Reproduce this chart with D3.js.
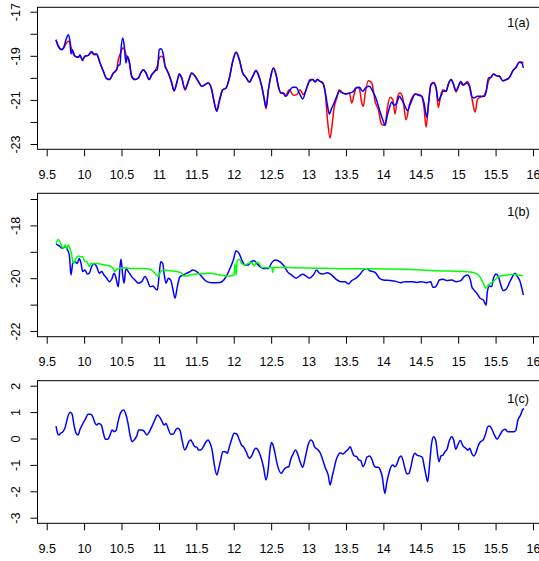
<!DOCTYPE html>
<html><head><meta charset="utf-8">
<script src="https://cdn.jsdelivr.net/npm/d3@7"></script>
<style>html,body{margin:0;padding:0;background:#fff;}svg{display:block;}</style>
</head><body>
<svg id="c" width="539" height="561"></svg>
<script>
// ---------- data ----------
const xTicks = [9.5,10,10.5,11,11.5,12,12.5,13,13.5,14,14.5,15,15.5,16];
const p1YTicks = [-17,-18,-19,-20,-21,-22,-23];
const p1YLabels = [-17,-19,-21,-23];
const p2YTicks = [-17,-18,-19,-20,-21,-22];
const p2YLabels = [-18,-20,-22];
const p3YTicks = [2,1,0,-1,-2,-3];
const p3YLabels = [2,1,0,-1,-2,-3];
const panelLabels = ["1(a)","1(b)","1(c)"];

const p1RedX = [9.624,9.655,9.70,9.72,9.758,9.789,9.81,9.825,9.842,9.878,9.922,9.945,9.976,10.012,10.056,10.10,10.132,10.168,10.213,10.257,10.302,10.337,10.39,10.436,10.457,10.49,10.516,10.537,10.56,10.60,10.636,10.68,10.725,10.757,10.79,10.828,10.868,10.904,10.948,10.979,11.005,11.028,11.059,11.082,11.104,11.126,11.171,11.202,11.238,11.273,11.305,11.349,11.393,11.439,11.483,11.527,11.572,11.616,11.66,11.706,11.727,11.773,11.808,11.853,11.897,11.941,11.987,12.031,12.075,12.12,12.164,12.209,12.254,12.298,12.329,12.374,12.409,12.432,12.463,12.495,12.53,12.566,12.596,12.632,12.663,12.686,12.743,12.797,12.842,12.886,12.931,12.976,13.02,13.056,13.087,13.118,13.154,13.19,13.221,13.251,13.287,13.31,13.341,13.377,13.412,13.457,13.501,13.545,13.578,13.608,13.644,13.679,13.711,13.733,13.755,13.799,13.845,13.869,13.889,13.933,13.969,14.0,14.023,14.053,14.09,14.126,14.156,14.187,14.223,14.259,14.303,14.348,14.393,14.424,14.481,14.513,14.544,14.571,14.602,14.634,14.669,14.705,14.735,14.768,14.802,14.838,14.869,14.905,14.936,14.971,15.025,15.07,15.123,15.16,15.195,15.226,15.257,15.293,15.337,15.373,15.404,15.436,15.471,15.507,15.551,15.597,15.641,15.685,15.73,15.774,15.819,15.85,15.872];
const p1RedY = [-18.27,-18.55,-18.70,-18.66,-18.45,-18.34,-18.36,-18.6,-18.8,-19.02,-19.07,-19.02,-19.15,-19.02,-18.98,-18.85,-18.95,-18.95,-19.33,-19.70,-20.04,-20.08,-19.80,-19.60,-19.18,-18.85,-18.65,-18.7,-18.95,-19.25,-19.93,-20.08,-20.01,-19.78,-19.63,-19.78,-20.08,-19.86,-19.68,-19.45,-19.1,-19.02,-19.1,-19.45,-19.63,-19.80,-20.23,-20.60,-20.23,-19.83,-20.01,-20.55,-20.16,-19.78,-19.93,-20.16,-20.38,-20.31,-20.23,-20.54,-20.91,-21.45,-21.0,-20.54,-20.46,-20.01,-19.25,-18.85,-19.18,-19.78,-19.98,-20.19,-19.93,-19.66,-19.86,-20.38,-20.99,-21.41,-20.54,-19.93,-19.55,-19.86,-20.38,-20.69,-20.69,-20.84,-20.54,-20.79,-20.76,-20.54,-20.76,-20.46,-20.08,-20.08,-20.16,-20.08,-20.16,-20.23,-20.61,-21.82,-22.73,-22.27,-21.37,-20.91,-20.54,-20.69,-20.73,-20.69,-21.14,-20.76,-20.43,-20.5,-21.14,-21.29,-20.76,-20.13,-20.23,-20.64,-21.06,-21.44,-22.05,-22.15,-22.12,-21.37,-20.88,-20.99,-21.64,-20.91,-20.69,-20.91,-21.90,-21.22,-20.84,-20.73,-20.76,-20.84,-21.37,-22.24,-21.22,-20.31,-20.2,-20.46,-21.34,-20.76,-20.54,-20.61,-20.28,-20.08,-20.28,-20.64,-20.23,-20.34,-20.16,-20.46,-21.14,-21.55,-20.99,-20.88,-20.84,-20.61,-20.16,-19.98,-19.83,-19.90,-19.93,-20.13,-20.08,-19.98,-19.68,-19.52,-19.28,-19.28,-19.33];

const p1BlueX = [9.624,9.655,9.70,9.72,9.758,9.789,9.81,9.825,9.842,9.878,9.922,9.945,9.976,10.012,10.056,10.10,10.132,10.168,10.213,10.257,10.302,10.337,10.39,10.436,10.457,10.48,10.493,10.516,10.537,10.56,10.578,10.604,10.636,10.68,10.725,10.757,10.79,10.828,10.868,10.904,10.948,10.979,11.005,11.028,11.059,11.082,11.104,11.126,11.171,11.202,11.238,11.273,11.305,11.349,11.393,11.439,11.483,11.527,11.572,11.616,11.66,11.706,11.727,11.773,11.808,11.853,11.897,11.941,11.987,12.031,12.075,12.12,12.164,12.209,12.254,12.298,12.329,12.374,12.409,12.432,12.463,12.495,12.53,12.566,12.596,12.632,12.663,12.699,12.743,12.789,12.833,12.877,12.923,12.967,13.011,13.056,13.087,13.118,13.154,13.19,13.221,13.251,13.278,13.31,13.341,13.377,13.412,13.457,13.501,13.545,13.591,13.635,13.679,13.724,13.768,13.813,13.858,13.9,13.947,13.992,14.023,14.045,14.08,14.112,14.143,14.179,14.214,14.246,14.29,14.321,14.357,14.393,14.424,14.468,14.513,14.544,14.58,14.607,14.634,14.669,14.705,14.735,14.768,14.802,14.838,14.869,14.905,14.936,14.971,15.003,15.035,15.07,15.115,15.15,15.182,15.212,15.257,15.302,15.347,15.373,15.404,15.436,15.471,15.507,15.551,15.597,15.641,15.685,15.73,15.774,15.819,15.85,15.872];
const p1BlueY = [-18.27,-18.57,-18.72,-18.68,-18.27,-18.04,-18.34,-18.92,-18.72,-19.02,-19.07,-18.95,-19.22,-19.02,-18.98,-18.80,-18.92,-18.92,-19.33,-19.70,-20.04,-20.08,-19.78,-19.63,-19.43,-19.40,-18.72,-18.19,-18.57,-19.33,-19.02,-19.25,-19.93,-20.08,-20.01,-19.78,-19.63,-19.78,-20.08,-19.86,-19.68,-19.63,-18.72,-18.68,-18.95,-19.48,-19.63,-19.78,-20.23,-20.58,-20.23,-19.83,-20.01,-20.51,-20.16,-19.78,-19.93,-20.16,-20.38,-20.31,-20.23,-20.54,-20.91,-21.52,-21.06,-20.54,-20.46,-20.01,-19.25,-18.83,-19.18,-19.78,-19.98,-20.19,-19.93,-19.68,-19.86,-20.38,-20.99,-21.34,-20.54,-19.93,-19.55,-19.86,-20.38,-20.69,-20.69,-20.84,-20.61,-20.43,-20.43,-20.69,-20.96,-20.54,-20.16,-20.08,-20.19,-20.08,-20.16,-20.23,-20.61,-21.22,-21.64,-21.37,-21.14,-20.84,-20.61,-20.69,-20.73,-20.69,-20.64,-20.46,-20.43,-20.61,-20.43,-20.38,-20.61,-20.91,-21.44,-21.90,-22.15,-21.82,-21.37,-21.10,-21.24,-21.14,-20.84,-20.99,-21.29,-21.49,-21.22,-20.91,-20.73,-20.79,-20.84,-21.14,-21.79,-21.06,-20.34,-20.23,-20.46,-21.04,-20.84,-20.61,-20.61,-20.28,-20.08,-20.28,-20.58,-20.38,-20.16,-20.31,-20.23,-20.38,-20.84,-20.91,-20.84,-20.84,-20.84,-20.64,-20.01,-19.98,-19.83,-19.90,-19.93,-20.13,-20.08,-19.98,-19.68,-19.52,-19.29,-19.33,-19.55];

const p2BlueX = [9.624,9.668,9.714,9.745,9.775,9.802,9.825,9.848,9.878,9.909,9.936,9.959,9.981,10.012,10.043,10.07,10.10,10.132,10.168,10.203,10.235,10.266,10.302,10.337,10.369,10.40,10.427,10.457,10.48,10.493,10.516,10.533,10.56,10.591,10.636,10.68,10.725,10.77,10.814,10.845,10.881,10.917,10.948,10.979,11.001,11.024,11.051,11.068,11.095,11.126,11.158,11.184,11.215,11.246,11.282,11.326,11.372,11.416,11.452,11.505,11.572,11.639,11.706,11.817,11.884,11.95,11.995,12.031,12.075,12.107,12.151,12.195,12.227,12.271,12.307,12.352,12.396,12.463,12.508,12.552,12.619,12.673,12.717,12.775,12.833,12.877,12.923,12.967,13.011,13.064,13.11,13.144,13.19,13.251,13.31,13.368,13.431,13.488,13.532,13.577,13.635,13.679,13.733,13.778,13.822,13.889,13.947,14.0,14.09,14.179,14.233,14.29,14.38,14.447,14.513,14.571,14.634,14.66,14.691,14.722,14.749,14.794,14.848,14.915,14.972,15.035,15.079,15.123,15.16,15.182,15.212,15.249,15.293,15.337,15.373,15.39,15.417,15.449,15.471,15.507,15.538,15.57,15.604,15.641,15.685,15.73,15.761,15.792,15.828,15.85,15.872];
const p2BlueY = [-18.70,-18.78,-18.87,-18.81,-18.91,-19.12,-19.88,-19.44,-19.38,-19.44,-19.25,-19.44,-19.75,-19.69,-19.84,-19.81,-19.56,-19.44,-19.56,-19.81,-19.75,-19.88,-20.0,-20.13,-20.04,-19.81,-20.0,-20.32,-19.56,-19.28,-19.88,-20.19,-19.63,-19.75,-19.94,-20.07,-20.19,-20.13,-19.94,-20.07,-20.32,-20.30,-20.38,-20.45,-19.94,-19.38,-19.44,-19.81,-20.19,-20.0,-20.07,-20.38,-20.76,-20.32,-19.94,-19.88,-19.81,-19.75,-19.69,-19.75,-19.94,-20.13,-20.17,-20.16,-20.0,-19.63,-19.31,-18.96,-19.08,-19.31,-19.5,-19.5,-19.38,-19.34,-19.44,-19.56,-19.63,-19.63,-19.41,-19.31,-19.38,-19.54,-19.75,-19.88,-20.0,-19.92,-19.85,-19.92,-20.0,-19.88,-19.69,-19.81,-19.84,-19.79,-19.88,-20.04,-20.13,-20.13,-20.22,-20.09,-20.0,-19.88,-19.69,-19.63,-19.72,-19.78,-20.0,-20.07,-20.09,-20.13,-20.17,-20.13,-20.13,-20.16,-20.13,-20.17,-20.13,-20.34,-20.34,-20.22,-20.07,-20.04,-20.09,-20.07,-20.13,-20.09,-19.94,-19.88,-20.04,-20.32,-20.45,-20.57,-20.76,-20.83,-21.02,-20.51,-20.30,-20.32,-20.0,-19.84,-19.94,-20.26,-20.47,-20.42,-20.17,-19.92,-19.81,-19.94,-20.13,-20.38,-20.64];

const p2GreenX = [9.624,9.655,9.678,9.70,9.722,9.745,9.767,9.789,9.81,9.834,9.848,9.865,9.892,9.922,9.955,9.981,10.012,10.035,10.07,10.088,10.123,10.168,10.213,10.28,10.346,10.39,10.413,10.436,10.48,10.524,10.614,10.703,10.79,10.881,10.925,10.971,10.992,11.015,11.059,11.148,11.238,11.305,11.326,11.372,11.416,11.505,11.594,11.683,11.817,11.95,12.004,12.017,12.031,12.048,12.075,12.107,12.151,12.195,12.241,12.276,12.298,12.329,12.374,12.441,12.508,12.521,12.53,12.797,13.11,13.466,13.822,14.267,14.714,15.07,15.203,15.27,15.316,15.346,15.373,15.404,15.436,15.471,15.516,15.56,15.65,15.738,15.805,15.864];
const p2GreenY = [-18.68,-18.53,-18.62,-18.78,-18.87,-18.74,-18.87,-18.74,-18.87,-19.12,-19.37,-19.44,-19.25,-19.16,-19.19,-19.19,-19.37,-19.37,-19.56,-19.44,-19.44,-19.44,-19.46,-19.5,-19.54,-19.63,-19.75,-19.66,-19.63,-19.60,-19.63,-19.63,-19.63,-19.66,-19.75,-19.88,-19.94,-19.79,-19.69,-19.72,-19.75,-19.81,-19.91,-19.92,-19.88,-19.84,-19.83,-19.81,-19.88,-19.92,-19.88,-19.44,-19.88,-19.34,-19.28,-19.44,-19.5,-19.44,-19.41,-19.54,-19.41,-19.41,-19.59,-19.60,-19.59,-19.79,-19.59,-19.60,-19.62,-19.64,-19.64,-19.66,-19.72,-19.75,-19.78,-19.88,-20.07,-20.26,-20.38,-20.26,-20.19,-20.13,-20.0,-19.92,-19.88,-19.85,-19.88,-19.91];

const p3X = [9.625,9.643,9.66,9.687,9.723,9.75,9.776,9.812,9.839,9.865,9.892,9.919,9.946,9.981,10.017,10.053,10.088,10.115,10.142,10.168,10.195,10.23,10.258,10.284,10.32,10.347,10.373,10.40,10.427,10.454,10.489,10.525,10.561,10.587,10.614,10.641,10.676,10.703,10.73,10.766,10.801,10.837,10.873,10.908,10.944,10.98,11.015,11.042,11.069,11.095,11.122,11.158,11.193,11.229,11.256,11.283,11.309,11.345,11.372,11.398,11.425,11.452,11.479,11.505,11.532,11.559,11.594,11.63,11.657,11.684,11.711,11.737,11.773,11.80,11.826,11.853,11.889,11.915,11.942,11.969,12.005,12.04,12.076,12.103,12.129,12.165,12.21,12.245,12.272,12.299,12.325,12.361,12.397,12.432,12.459,12.486,12.505,12.525,12.547,12.583,12.637,12.672,12.708,12.735,12.762,12.797,12.824,12.851,12.887,12.922,12.958,12.994,13.03,13.056,13.083,13.119,13.155,13.19,13.226,13.262,13.288,13.315,13.342,13.369,13.396,13.422,13.458,13.494,13.53,13.556,13.583,13.61,13.645,13.672,13.699,13.726,13.753,13.779,13.815,13.842,13.878,13.904,13.931,13.958,13.985,14.02,14.047,14.074,14.101,14.128,14.154,14.181,14.208,14.235,14.261,14.288,14.315,14.342,14.368,14.395,14.422,14.449,14.484,14.52,14.547,14.574,14.592,14.619,14.645,14.672,14.699,14.726,14.744,14.77,14.797,14.824,14.851,14.877,14.913,14.94,14.967,14.994,15.029,15.065,15.101,15.128,15.155,15.181,15.208,15.235,15.262,15.298,15.333,15.369,15.396,15.423,15.45,15.485,15.521,15.557,15.593,15.628,15.664,15.7,15.745,15.771,15.798,15.834,15.86,15.878];
const p3Y = [0.47,0.22,0.13,0.20,0.28,0.45,0.76,0.99,0.92,0.51,0.20,0.13,0.35,0.55,0.73,0.92,0.92,0.83,0.61,0.51,0.57,0.51,0.20,-0.03,-0.02,0.13,0.32,0.26,0.30,0.64,0.98,1.08,0.89,0.57,0.13,-0.12,-0.03,0.09,0.32,0.32,0.28,0.13,0.26,0.47,0.70,0.89,0.79,0.64,0.51,0.57,0.39,0.16,0.17,0.35,0.39,0.30,-0.06,-0.44,-0.31,-0.12,-0.06,-0.18,-0.31,-0.33,-0.44,-0.44,-0.31,-0.12,-0.06,-0.18,-0.44,-0.94,-1.38,-1.13,-0.81,-0.50,-0.50,-0.56,-0.31,-0.06,0.20,0.17,-0.06,-0.25,-0.31,-0.50,-0.75,-0.63,-0.44,-0.37,-0.44,-0.69,-1.07,-1.57,-1.19,-0.40,-0.15,-0.25,-0.50,-1.00,-1.32,-1.17,-1.09,-1.07,-0.79,-0.56,-0.44,-0.56,-0.88,-1.09,-0.69,-0.25,-0.06,-0.12,-0.33,-0.41,-0.54,-0.81,-1.13,-1.38,-1.76,-1.45,-1.13,-0.81,-0.63,-0.54,-0.59,-0.50,-0.41,-0.31,-0.50,-0.66,-0.69,-0.81,-0.84,-1.07,-0.94,-0.71,-0.66,-0.75,-1.04,-1.09,-1.09,-1.19,-1.45,-2.08,-1.64,-1.32,-1.07,-1.00,-1.07,-0.97,-0.75,-0.66,-0.81,-1.13,-1.34,-1.32,-1.07,-0.71,-0.56,-0.63,-0.66,-0.71,-1.07,-1.45,-1.64,-0.94,-0.18,0.07,-0.06,-0.63,-0.88,-0.66,-0.63,-0.50,-0.41,-0.12,0.07,-0.06,-0.41,-0.25,-0.08,-0.28,-0.37,-0.44,-0.37,-0.56,-0.66,-0.56,-0.31,-0.12,-0.06,0.20,0.45,0.47,0.35,0.13,-0.03,0.13,0.30,0.35,0.26,0.26,0.26,0.32,0.70,0.89,1.08,1.14];

// ---------- layout ----------
const svg = d3.select("#c");
const FONT = "'Liberation Sans', Arial, Helvetica, sans-serif";
const FS = 12.6;
const boxLeft = 37.5, boxRight = 541;
const x = d3.scaleLinear().domain([9.5, 16]).range([46.7, 533]);

const panels = [
  {top: 7.3, bottom: 149.3, dom: [-23, -17], rng: [144, 11.7], ticks: p1YTicks, labels: p1YLabels, labelY: 27.3,
   series: [{xs: p1RedX, ys: p1RedY, color: "#ff0000"}, {xs: p1BlueX, ys: p1BlueY, color: "#0000ff"}]},
  {top: 193.3, bottom: 336.7, dom: [-22, -17], rng: [331, 199], ticks: p2YTicks, labels: p2YLabels, labelY: 215.7,
   series: [{xs: p2BlueX, ys: p2BlueY, color: "#0000ff"}, {xs: p2GreenX, ys: p2GreenY, color: "#00ff00"}]},
  {top: 380.7, bottom: 523.3, dom: [-3, 2], rng: [517.7, 385.7], ticks: p3YTicks, labels: p3YLabels, labelY: 403,
   series: [{xs: p3X, ys: p3Y, color: "#0000ff"}]}
];

panels.forEach((p, i) => {
  const y = d3.scaleLinear().domain(p.dom).range(p.rng);
  const g = svg.append("g");
  const clipId = "clip" + i;
  svg.append("clipPath").attr("id", clipId).append("rect")
    .attr("x", boxLeft).attr("y", p.top).attr("width", boxRight - boxLeft).attr("height", p.bottom - p.top);

  p.series.forEach(s => {
    const pts = s.xs.map((v, k) => [v, s.ys[k]]);
    const line = d3.line().x(d => x(d[0])).y(d => y(d[1])).curve(d3.curveMonotoneX);
    g.append("path").attr("d", line(pts)).attr("fill", "none")
      .attr("stroke", s.color).attr("stroke-width", 1.5).attr("stroke-linejoin", "round")
      .attr("clip-path", `url(#${clipId})`);
  });

  g.append("rect").attr("x", boxLeft).attr("y", p.top)
    .attr("width", boxRight - boxLeft).attr("height", p.bottom - p.top)
    .attr("fill", "none").attr("stroke", "#000").attr("stroke-width", 1);

  const xa = g.append("g").attr("transform", `translate(0,${p.bottom})`)
    .call(d3.axisBottom(x).tickValues(xTicks).tickSize(7).tickSizeOuter(0).tickFormat(d3.format("")));
  xa.select(".domain").remove();
  xa.selectAll(".tick line").attr("stroke", "#000");
  xa.selectAll(".tick text").attr("y", 29.5).attr("dy", 0)
    .attr("font-family", FONT).attr("font-size", FS).attr("fill", "#000");

  const ya = g.append("g").attr("transform", `translate(${boxLeft},0)`)
    .call(d3.axisLeft(y).tickValues(p.ticks).tickSize(7).tickSizeOuter(0)
      .tickFormat(d => p.labels.includes(d) ? d3.format("")(d).replace("\u2212", "-") : ""));
  ya.select(".domain").remove();
  ya.selectAll(".tick line").attr("stroke", "#000");
  ya.selectAll(".tick text").attr("x", null).attr("dy", 0)
    .attr("transform", "translate(-17.5,0) rotate(-90)")
    .attr("text-anchor", "middle")
    .attr("font-family", FONT).attr("font-size", FS).attr("fill", "#000");

  g.append("text").attr("x", 507.3).attr("y", p.labelY).text(panelLabels[i])
    .attr("font-family", FONT).attr("font-size", FS).attr("fill", "#000");
});
</script>
</body></html>
